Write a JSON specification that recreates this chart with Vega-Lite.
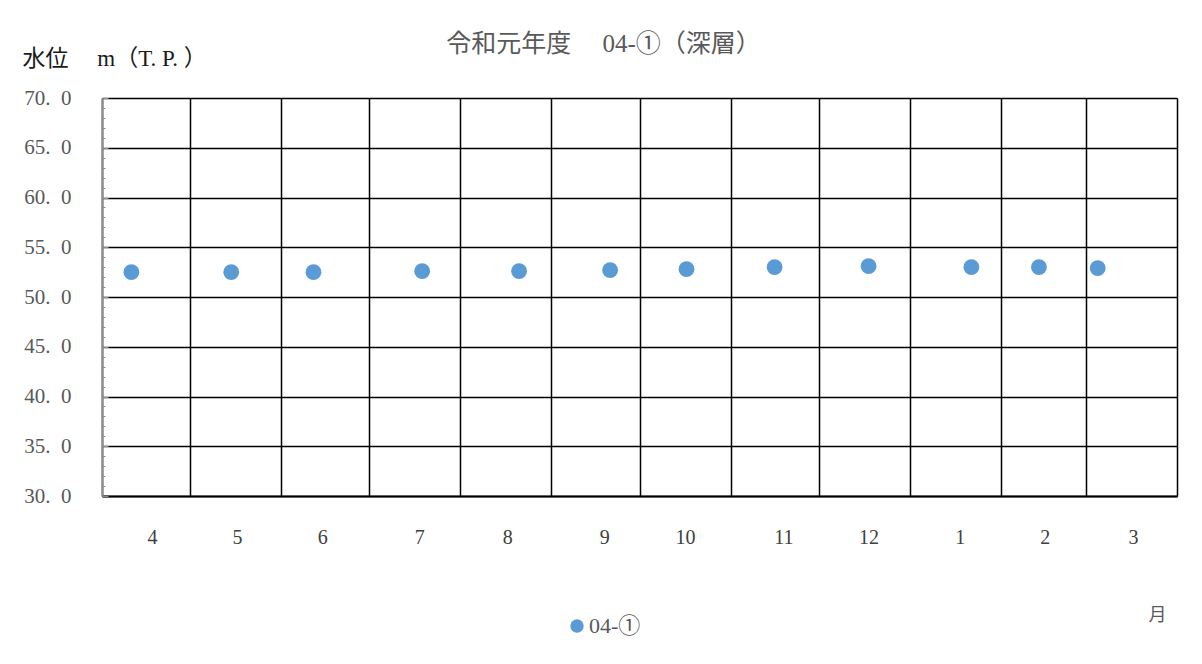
{
  "$schema": "https://vega.github.io/schema/vega-lite/v6.json",
  "width": 1075,
  "height": 398,
  "autosize": {"type": "none"},
  "padding": {"left": 102, "top": 98, "right": 25, "bottom": 168},
  "background": "white",
  "config": {
    "font": "Liberation Serif, Noto Sans CJK JP",
    "view": {"stroke": null}
  },
  "title": {
    "text": "令和元年度　 04-①（深層）",
    "fontSize": 25,
    "fontWeight": "normal",
    "color": "#595959",
    "anchor": "middle",
    "dx": -36,
    "dy": 50,
    "offset": 40
  },
  "data": {
    "values": [
      {"date": "2019-04-11", "level": 52.5},
      {"date": "2019-05-15", "level": 52.5},
      {"date": "2019-06-12", "level": 52.5},
      {"date": "2019-07-19", "level": 52.6},
      {"date": "2019-08-21", "level": 52.6},
      {"date": "2019-09-21", "level": 52.7},
      {"date": "2019-10-17", "level": 52.8},
      {"date": "2019-11-16", "level": 53.0},
      {"date": "2019-12-18", "level": 53.1},
      {"date": "2020-01-22", "level": 53.0},
      {"date": "2020-02-14", "level": 53.0},
      {"date": "2020-03-05", "level": 52.9}
    ]
  },
  "layer": [
    {
      "mark": {"type": "point", "filled": true, "size": 250, "opacity": 1, "strokeWidth": 0},
      "encoding": {
        "x": {
          "field": "date",
          "type": "temporal",
          "scale": {
            "type": "utc",
            "domain": [
              {"year": 2019, "month": 4, "date": 1, "utc": true},
              {"year": 2020, "month": 4, "date": 1, "utc": true}
            ],
            "nice": false
          },
          "axis": {
            "orient": "bottom",
            "values": [
              {"year": 2019, "month": 4, "date": 1, "utc": true},
              {"year": 2019, "month": 5, "date": 1, "utc": true},
              {"year": 2019, "month": 6, "date": 1, "utc": true},
              {"year": 2019, "month": 7, "date": 1, "utc": true},
              {"year": 2019, "month": 8, "date": 1, "utc": true},
              {"year": 2019, "month": 9, "date": 1, "utc": true},
              {"year": 2019, "month": 10, "date": 1, "utc": true},
              {"year": 2019, "month": 11, "date": 1, "utc": true},
              {"year": 2019, "month": 12, "date": 1, "utc": true},
              {"year": 2020, "month": 1, "date": 1, "utc": true},
              {"year": 2020, "month": 2, "date": 1, "utc": true},
              {"year": 2020, "month": 3, "date": 1, "utc": true},
              {"year": 2020, "month": 4, "date": 1, "utc": true}
            ],
            "grid": true,
            "gridColor": "#000000",
            "gridWidth": 1.5,
            "gridOpacity": 1,
            "ticks": false,
            "labels": false,
            "domain": true,
            "domainColor": "#000000",
            "domainWidth": 2,
            "title": "月",
            "titleX": 1055,
            "titleY": 119,
            "titleAlign": "center",
            "titleBaseline": "middle",
            "titleAngle": 0,
            "titleFontSize": 18,
            "titleFontWeight": "normal",
            "titleColor": "#595959"
          }
        },
        "y": {
          "field": "level",
          "type": "quantitative",
          "scale": {"domain": [30, 70], "nice": false, "zero": false},
          "axis": {
            "orient": "left",
            "values": [30, 35, 40, 45, 50, 55, 60, 65, 70],
            "grid": true,
            "gridColor": "#000000",
            "gridWidth": 1.5,
            "gridOpacity": 1,
            "ticks": false,
            "domain": false,
            "labelExpr": "replace(format(datum.value, '.1f'), '.', '.\u2002')",
            "labelFontSize": 21,
            "labelColor": "#595959",
            "labelPadding": 31,
            "labelBaseline": "middle",
            "title": "水位　 m（T. P. ）",
            "titleAngle": 0,
            "titleAlign": "left",
            "titleBaseline": "middle",
            "titleX": -80,
            "titleY": -40,
            "titleFontSize": 23,
            "titleFontWeight": "normal",
            "titleColor": "#1a1a1a"
          }
        },
        "color": {
          "datum": "04-①",
          "type": "nominal",
          "scale": {"range": ["#5b9bd5"]},
          "legend": {
            "title": null,
            "orient": "none",
            "legendX": 464,
            "legendY": 517,
            "symbolType": "circle",
            "symbolSize": 180,
            "symbolOpacity": 1,
            "symbolStrokeWidth": 0,
            "labelFontSize": 22,
            "labelColor": "#595959",
            "labelOffset": 1
          }
        }
      }
    },
    {
      "mark": {"type": "point", "opacity": 0},
      "encoding": {
        "x": {
          "field": "date",
          "type": "temporal",
          "axis": {
            "orient": "bottom",
            "values": [
              {"year": 2019, "month": 4, "date": 18, "utc": true},
              {"year": 2019, "month": 5, "date": 17, "utc": true},
              {"year": 2019, "month": 6, "date": 15, "utc": true},
              {"year": 2019, "month": 7, "date": 18, "utc": true},
              {"year": 2019, "month": 8, "date": 17, "utc": true},
              {"year": 2019, "month": 9, "date": 19, "utc": true},
              {"year": 2019, "month": 10, "date": 16, "hours": 12, "utc": true},
              {"year": 2019, "month": 11, "date": 19, "utc": true},
              {"year": 2019, "month": 12, "date": 18, "utc": true},
              {"year": 2020, "month": 1, "date": 18, "utc": true},
              {"year": 2020, "month": 2, "date": 16, "utc": true},
              {"year": 2020, "month": 3, "date": 17, "utc": true}
            ],
            "labelExpr": "utcFormat(datum.value, '%-m')",
            "grid": false,
            "ticks": false,
            "domain": false,
            "labelFontSize": 20,
            "labelColor": "#404040",
            "labelPadding": 31,
            "labelFlush": false,
            "labelOverlap": false,
            "title": null
          }
        },
        "y": {
          "field": "level",
          "type": "quantitative",
          "axis": {
            "orient": "left",
            "values": [30, 31, 32, 33, 34, 35, 36, 37, 38, 39, 40, 41, 42, 43, 44, 45, 46, 47, 48, 49, 50, 51, 52, 53, 54, 55, 56, 57, 58, 59, 60, 61, 62, 63, 64, 65, 66, 67, 68, 69, 70],
            "grid": false,
            "labels": false,
            "ticks": true,
            "tickColor": "#8c8c8c",
            "tickWidth": 1,
            "tickSize": {"condition": {"test": "datum.value % 5 === 0", "value": -6}, "value": -3},
            "domain": true,
            "domainColor": "#8c8c8c",
            "domainWidth": 2,
            "title": null
          }
        }
      }
    }
  ],
  "resolve": {"axis": {"x": "independent", "y": "independent"}}
}
